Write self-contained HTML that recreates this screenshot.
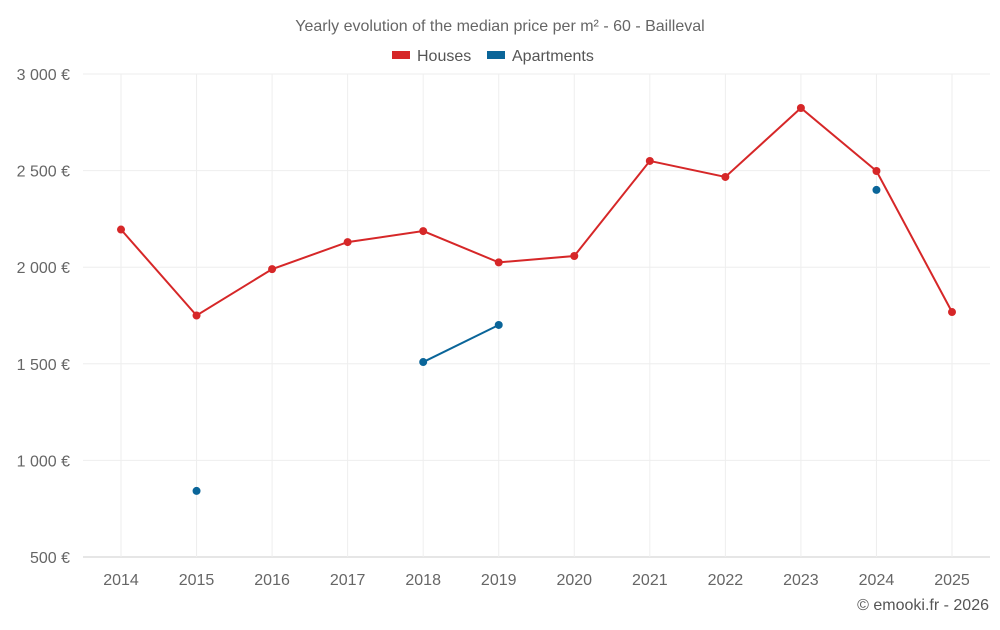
<!DOCTYPE html>
<html><head><meta charset="utf-8"><style>
body{margin:0;background:#fff;font-family:"Liberation Sans",sans-serif;}
svg text{font-family:"Liberation Sans",sans-serif;}
</style></head><body>
<svg id="chart" width="1000" height="625" viewBox="0 0 1000 625" xmlns="http://www.w3.org/2000/svg">
<text x="500" y="31" text-anchor="middle" font-size="16" fill="#666">Yearly evolution of the median price per m² - 60 - Bailleval</text>
<g>
<rect x="392" y="51" width="18" height="8" fill="#d62728"/>
<text x="417" y="61" font-size="16" fill="#555">Houses</text>
<rect x="487" y="51" width="18" height="8" fill="#0a6599"/>
<text x="512" y="61" font-size="16" fill="#555">Apartments</text>
</g>
<g id="grid"></g><g id="axes"></g><g id="series"></g>
<text x="989" y="610" text-anchor="end" font-size="16" fill="#555">© emooki.fr - 2026</text>
</svg>
<script>
const years=[2014,2015,2016,2017,2018,2019,2020,2021,2022,2023,2024,2025];
const houses=[2195,1750,1990,2130,2187,2025,2058,2550,2467,2824,2498,1768];
const apartments=[null,842,null,null,1509,1701,null,null,null,null,2400,null];
const yTicks=[500,1000,1500,2000,2500,3000];
const yTickLabels=["500 €","1 000 €","1 500 €","2 000 €","2 500 €","3 000 €"];
const NS="http://www.w3.org/2000/svg";
const L=83,R=990,T=74,B=557;
const x=i=>121+i*(952-121)/(years.length-1);
const y=v=>B-(v-500)/(3000-500)*(B-T);
function mk(tag,attrs,parent){const e=document.createElementNS(NS,tag);for(const k in attrs)e.setAttribute(k,attrs[k]);document.getElementById(parent).appendChild(e);return e;}
yTicks.forEach((t,i)=>{
 const g=mk('line',{x1:L,x2:R,y1:y(t),y2:y(t),stroke:i==0?'#ccc':'#eee'},'grid');
 
 
 const tx=mk('text',{x:70,y:y(t)+6,'text-anchor':'end','font-size':16,fill:'#666'},'axes');
 tx.textContent=yTickLabels[i];
 
 
});
years.forEach((yr,i)=>{
 const g=mk('line',{x1:x(i),x2:x(i),y1:T,y2:B,stroke:'#eee'},'grid');
 
 
 const tx=mk('text',{x:x(i),y:585,'text-anchor':'middle','font-size':16,fill:'#666'},'axes');
 tx.textContent=yr;
 
 
});
function series(vals,color,name){
 let seg=[];const segs=[];
 vals.forEach((v,i)=>{if(v==null){if(seg.length)segs.push(seg);seg=[];}else seg.push([x(i),y(v)]);});
 if(seg.length)segs.push(seg);
 segs.forEach(s=>{if(s.length>1){const p=mk('polyline',{points:s.map(q=>q.join(',')).join(' '),fill:'none',stroke:color,'stroke-width':2},'series');
  
  }});
 vals.forEach((v,i)=>{if(v==null)return;const c=mk('circle',{cx:x(i),cy:y(v),r:4,fill:color},'series');
  
  });
}
series(houses,'#d62728','houses');
series(apartments,'#0a6599','apartments');
</script>
</body></html>
